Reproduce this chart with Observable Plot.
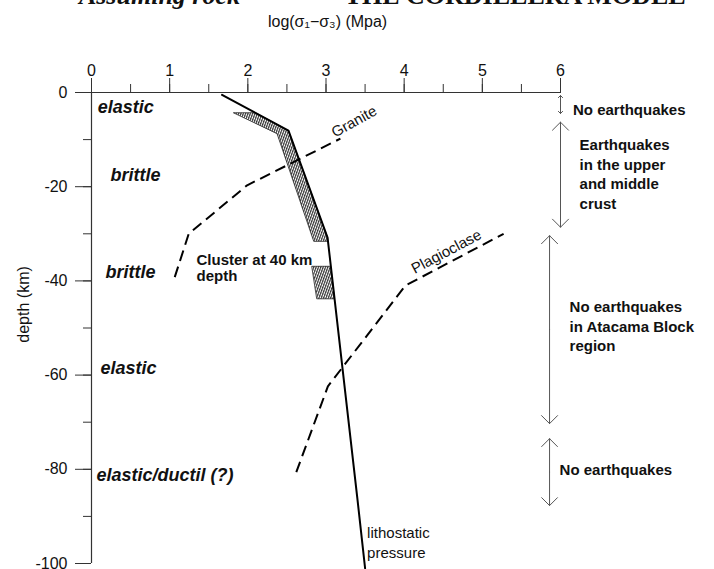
<!DOCTYPE html>
<html>
<head>
<meta charset="utf-8">
<script src="https://cdn.jsdelivr.net/npm/d3@7"></script>
<script src="https://cdn.jsdelivr.net/npm/@observablehq/plot@0.6"></script>
<style>
  body { margin: 0; background: #fff; }
  #chart svg { display: block; }
  g[aria-label="regime"] text { letter-spacing: 1.2px; }
  g[aria-label="zone note"] text { letter-spacing: 1.1px; }
  g[aria-label="curve label"] text { letter-spacing: 1.6px; }
  g[aria-label="axis title"] text { letter-spacing: 1.4px; }
</style>
</head>
<body>
<div id="chart"></div>
<script>
// Axis ticks: log(σ1−σ3) in MPa along the top, depth in km down the side
const xTicks = [0, 1, 2, 3, 4, 5, 6];
const xMinorTicks = [0, 0.5, 1, 1.5, 2, 2.5, 3, 3.5, 4, 4.5, 5, 5.5, 6];
const yTicks = [0, -20, -40, -60, -80, -100];
const yMinorTicks = [0, -10, -20, -30, -40, -50, -60, -70, -80, -90, -100];

// Lithostatic pressure envelope
const lithoX = [1.67, 2.52, 3.02, 3.40, 3.50];
const lithoY = [-0.5, -8.1, -30.8, -86.0, -101];

// Hatched strength bands along the envelope
const band1X = [1.82, 2.10, 2.52, 3.02, 3.024, 2.843, 2.375];
const band1Y = [-4.3, -4.3, -8.1, -30.8, -31.6, -31.6, -8.8];
const band2X = [2.822, 3.06, 3.109, 2.886];
const band2Y = [-36.9, -36.9, -43.8, -43.8];

// Creep curves (dashed)
const graniteX = [1.065, 1.244, 1.991, 3.184];
const graniteY = [-39.2, -30.0, -19.7, -9.8];
const plagioclaseX = [2.62, 3.024, 4.015, 5.272];
const plagioclaseY = [-80.6, -62.4, -41.0, -30.0];

// Rheological regime labels
const regimeNames = ["elastic", "brittle", "brittle", "elastic", "elastic/ductil (?)"];
const regimeX = [0.08, 0.243, 0.179, 0.115, 0.064];
const regimeY = [-3.1, -17.6, -38.2, -58.6, -81.3];

// Seismicity zones on the right
const zoneX = [6.0, 6.0, 5.86, 5.86];
const zoneTop = [-0.64, -6.3, -30.4, -73.5];
const zoneBottom = [-4.46, -28.6, -70.3, -87.7];
const zoneText = [
  "No earthquakes",
  "Earthquakes\nin the upper\nand middle\ncrust",
  "No earthquakes\nin Atacama Block\nregion",
  "No earthquakes"
];
const zoneTextX = [6.16, 6.244, 6.116, 5.988];
const zoneTextY = [-3.46, -17.1, -49.5, -79.9];

const zoneIdx = zoneX.map((_, i) => i);
const zoneMid = zoneIdx.map(i => (zoneTop[i] + zoneBottom[i]) / 2);

const hatchDefs = () => {
  const defs = d3.create("svg:defs");
  const p = defs.append("pattern")
    .attr("id", "hatch")
    .attr("patternUnits", "userSpaceOnUse")
    .attr("width", 2.2)
    .attr("height", 2.2)
    .attr("patternTransform", "rotate(20)");
  p.append("rect").attr("width", 2.2).attr("height", 2.2).attr("fill", "#fff");
  p.append("rect").attr("width", 1.2).attr("height", 2.2).attr("fill", "#333");
  return defs.node();
};

const axisColor = "#333";
const serif = "'Liberation Serif', 'Times New Roman', serif";

const chart = Plot.plot({
  width: 714,
  height: 569,
  marginLeft: 91,
  marginRight: 154,
  marginTop: 92,
  marginBottom: 6,
  style: { fontFamily: "'Liberation Sans', Arial, sans-serif", fontSize: "16px", color: "#111", background: "#fff", overflow: "visible" },
  x: { domain: [0, 6] },
  y: { domain: [-100, 0] },
  marks: [
    hatchDefs,
    // axes
    Plot.axisX(xMinorTicks, { anchor: "top", tickSize: 9, tickFormat: () => "", label: null, stroke: axisColor }),
    Plot.axisX(xTicks, { anchor: "top", tickSize: 15, tickPadding: 2, label: null, stroke: axisColor, fontSize: 16 }),
    Plot.axisY(yMinorTicks, { anchor: "left", tickSize: 8, tickFormat: () => "", label: null, stroke: axisColor }),
    Plot.axisY(yTicks, { anchor: "left", tickSize: 16, tickPadding: 8, tickFormat: d => String(d), label: null, stroke: axisColor, fontSize: 16 }),
    Plot.ruleY([0], { x1: 0, x2: 6, stroke: axisColor, strokeWidth: 1.2 }),
    Plot.ruleX([0], { y1: -100, y2: 0, stroke: axisColor, strokeWidth: 1.2 }),
    // axis titles and heading
    Plot.text(["log(σ₁−σ₃) (Mpa)"], { x: 3.02, y: 15.1, text: d => d, fontSize: 16, ariaLabel: "axis title" }),
    Plot.text(["depth (km)"], { x: -0.87, y: -45, text: d => d, fontSize: 16, rotate: -90 }),
    Plot.text(["Assuming rock"], { x: 1.9, y: 18.8, text: d => d, textAnchor: "end", lineAnchor: "bottom", fontSize: 26, fontWeight: "bold", fontStyle: "italic", fontFamily: serif }),
    Plot.text(["THE CORDILLERA MODEL"], { x: 7.6, y: 18.8, text: d => d, textAnchor: "end", lineAnchor: "bottom", fontSize: 26, fontWeight: "bold", fontFamily: serif }),
    // hatched bands
    Plot.line(band1X, { x: band1X, y: band1Y, curve: "linear-closed", fill: "url(#hatch)", stroke: "#222", strokeWidth: 0.8 }),
    Plot.line(band2X, { x: band2X, y: band2Y, curve: "linear-closed", fill: "url(#hatch)", stroke: "#222", strokeWidth: 0.8 }),
    // creep curves
    Plot.line(graniteX, { x: graniteX, y: graniteY, stroke: "#000", strokeWidth: 2, strokeDasharray: "11,6", strokeLinecap: "butt" }),
    Plot.line(plagioclaseX, { x: plagioclaseX, y: plagioclaseY, stroke: "#000", strokeWidth: 2, strokeDasharray: "11,6", strokeLinecap: "butt" }),
    // lithostatic envelope
    Plot.line(lithoX, { x: lithoX, y: lithoY, stroke: "#000", strokeWidth: 2 }),
    // curve labels
    Plot.text(["Granite"], { x: 3.36, y: -6.2, text: d => d, rotate: -29, fontSize: 15, ariaLabel: "curve label" }),
    Plot.text(["Plagioclase"], { x: 4.54, y: -33.8, text: d => d, rotate: -28, fontSize: 15, ariaLabel: "curve label" }),
    Plot.text(["lithostatic\npressure"], { x: 3.526, y: -95.4, text: d => d, textAnchor: "start", fontSize: 15, lineHeight: 1.3, ariaLabel: "curve label" }),
    Plot.text(["Cluster at 40 km\ndepth"], { x: 1.343, y: -37.3, text: d => d, textAnchor: "start", fontSize: 15, fontWeight: "bold", lineHeight: 1.05 }),
    // regimes
    Plot.text(regimeNames, { x: regimeX, y: regimeY, text: d => d, textAnchor: "start", fontSize: 18, fontWeight: "bold", fontStyle: "italic", ariaLabel: "regime" }),
    // seismicity zones: double-headed arrows
    Plot.arrow(zoneIdx, { x1: zoneX, y1: zoneMid, x2: zoneX, y2: zoneTop, stroke: "#555", strokeWidth: 1, headAngle: 90, headLength: 17 }),
    Plot.arrow(zoneIdx, { x1: zoneX, y1: zoneMid, x2: zoneX, y2: zoneBottom, stroke: "#555", strokeWidth: 1, headAngle: 90, headLength: 17 }),
    Plot.text(zoneText, { x: zoneTextX, y: zoneTextY, text: d => d, textAnchor: "start", fontSize: 15, fontWeight: "bold", lineHeight: 1.3, ariaLabel: "zone note" })
  ]
});

document.getElementById("chart").append(chart);
</script>
</body>
</html>
